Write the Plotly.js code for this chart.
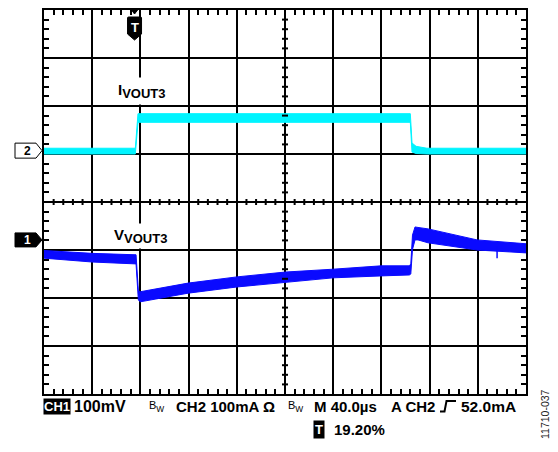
<!DOCTYPE html>
<html>
<head>
<meta charset="utf-8">
<script src="https://cdn.plot.ly/plotly-3.0.1.min.js"></script>
<style>html,body{margin:0;padding:0;background:#fff;}#chart{width:558px;height:452px;}</style>
</head>
<body>
<div id="chart"></div>
<script>
// ---- Data read from the scope capture (time in µs, trigger at t = 0) ----
// CH2: output current I_VOUT3 (mA), upper / lower edges of the noisy trace
const ch2Time = [-76.8, -1.0, 1.2, 227.2, 228.6, 232.0, 241.0, 323.2];
const ch2Upper = [5, 5, 77, 77, 16, 9, 5, 5];
const ch2Lower = [-7, -7, 59, 59, -3, -6, -7, -7];

// CH1: output voltage V_VOUT3 (mV, relative to CH1 marker), upper / lower edges
const ch1Time = [-76.8, -36.9, -0.4, 1.5, 3.0, 42.7, 83.4, 123.2, 163.1, 202.9, 226.4, 227.6, 229.0, 231.1, 233.6, 241.9, 282.6, 323.2];
const ch1Upper = [-22, -28, -31, -105, -108, -90, -77, -67, -61, -54, -54, -50, 10, 27, 26, 23, 0, -8];
const ch1Lower = [-38, -46, -50, -125, -129, -111, -98, -88, -79, -75, -73, -71, -20, 0, 0, -6, -21, -27];
// single narrow glitch on CH1
const ch1GlitchTime = [299.2, 299.2];
const ch1GlitchMv = [-14, -38];

// ---- Scope settings / text ----
const timePerDiv = 40;          // µs/div
const triggerPos = 0.192;       // 19.20 %
const ch1PerDiv = 100;          // mV/div
const ch2PerDiv = 100;          // mA/div
const ch1OffsetDiv = -0.79;     // CH1 ground marker position (div)
const ch2OffsetDiv = 1.07;      // CH2 ground marker position (div)
const triggerLevel = '52.0mA';
const figureId = '11710-037';
const labelI = 'I<sub><span style="font-size:13px">VOUT3</span></sub>';
const labelV = 'V<sub><span style="font-size:13px">VOUT3</span></sub>';

const xStart = -triggerPos * 10 * timePerDiv;
const xEnd = xStart + 10 * timePerDiv;

const PL = 44, PT = 10, PW = 482, PH = 384;
const px2x = px => (px - PL) / PW;
const py2y = py => (PT + PH - py) / PH;

const CYAN = '#00f4ff';
const BLUE = '#0a0aff';
const FONT = 'Liberation Sans, Arial, sans-serif';

const traces = [
  {x: ch2Time, y: ch2Lower, yaxis: 'y2', mode: 'lines', line: {color: CYAN, width: 1}, hoverinfo: 'skip'},
  {x: ch2Time, y: ch2Upper, yaxis: 'y2', mode: 'lines', line: {color: CYAN, width: 1}, fill: 'tonexty', fillcolor: CYAN, hoverinfo: 'skip'},
  {x: ch1Time, y: ch1Lower, yaxis: 'y3', mode: 'lines', line: {color: BLUE, width: 1}, hoverinfo: 'skip'},
  {x: ch1Time, y: ch1Upper, yaxis: 'y3', mode: 'lines', line: {color: BLUE, width: 1}, fill: 'tonexty', fillcolor: BLUE, hoverinfo: 'skip'},
  {x: ch1GlitchTime, y: ch1GlitchMv, yaxis: 'y3', mode: 'lines', line: {color: BLUE, width: 1.5}, hoverinfo: 'skip'}
];

// center-cross minor ticks (graticule decoration)
const shapes = [];
const xCenter = xStart + 5 * timePerDiv;
for (let k = 1; k < 50; k++) {
  if (k % 5 === 0) continue;
  const t = xStart + k * timePerDiv / 5;
  shapes.push({type: 'line', xref: 'x', yref: 'y', x0: t, x1: t, ysizemode: 'pixel', yanchor: 0, y0: -3, y1: 3, line: {color: 'black', width: 2}});
}
for (let k = 1; k < 40; k++) {
  if (k % 5 === 0) continue;
  const v = -4 + k * 0.2;
  shapes.push({type: 'line', xref: 'x', yref: 'y', xsizemode: 'pixel', xanchor: xCenter, x0: -3, x1: 3, y0: v, y1: v, line: {color: 'black', width: 2}});
}
// channel markers
shapes.push({type: 'path', xref: 'paper', yref: 'y2', xsizemode: 'pixel', ysizemode: 'pixel', xanchor: 0, yanchor: 0,
  path: 'M -29 7.5 L -8 7.5 L -2 0 L -8 -7.5 L -29 -7.5 Z', fillcolor: 'white', line: {color: 'black', width: 1}});
shapes.push({type: 'path', xref: 'paper', yref: 'y3', xsizemode: 'pixel', ysizemode: 'pixel', xanchor: 0, yanchor: 0,
  path: 'M -29 7 L -8 7 L -2 0 L -8 -7 L -29 -7 Z', fillcolor: 'black', line: {color: 'black', width: 1}});
// trigger marker
shapes.push({type: 'path', xref: 'x', yref: 'paper', xsizemode: 'pixel', ysizemode: 'pixel', xanchor: 0, yanchor: 1,
  path: 'M -9 -8 Q -9 -7 -8 -7 L 4 -7 Q 5 -7 5 -8 L 5 -24 L -2 -30 L -9 -24 Z', fillcolor: 'black', line: {color: 'black', width: 1}});
shapes.push({type: 'path', xref: 'x', yref: 'paper', xsizemode: 'pixel', ysizemode: 'pixel', xanchor: 0, yanchor: 1,
  path: 'M -5 0 L 1 0 L -2 -4 Z', fillcolor: 'black', line: {color: 'black', width: 1}});
// trigger slope symbol
shapes.push({type: 'path', xref: 'paper', yref: 'paper', xsizemode: 'pixel', ysizemode: 'pixel', xanchor: px2x(440), yanchor: py2y(406),
  path: 'M 0 -5.5 L 4.5 -5.5 L 6.5 5 L 16 5', line: {color: 'black', width: 2}});

const ann = (px, py, text, opts) => Object.assign({
  xref: 'paper', yref: 'paper', x: px2x(px), y: py2y(py), text: text, showarrow: false,
  xanchor: 'left', yanchor: 'middle', font: {family: FONT, size: 15, color: 'black', weight: 'bold'}
}, opts || {});

const bw = '<span style="font-size:11px">B</span><sub>W</sub>';
const annotations = [
  ann(142, 91, labelI, {xanchor: 'center', bgcolor: 'white', borderpad: 3}),
  ann(140, 236, labelV, {xanchor: 'center', bgcolor: 'white', borderpad: 2}),
  {xref: 'paper', yref: 'y2', x: px2x(27), y: 0, text: '2', showarrow: false, xanchor: 'center', yanchor: 'middle',
   font: {family: FONT, size: 12, color: 'black', weight: 'bold'}},
  {xref: 'paper', yref: 'y3', x: px2x(27), y: 0, text: '1', showarrow: false, xanchor: 'center', yanchor: 'middle',
   font: {family: FONT, size: 12, color: 'white', weight: 'bold'}},
  {xref: 'x', yref: 'paper', x: 0, y: 1, xshift: -2, yshift: -17, text: 'T', showarrow: false, xanchor: 'center', yanchor: 'middle',
   font: {family: FONT, size: 13, color: 'white', weight: 'bold'}},
  ann(43, 406, 'CH1', {bgcolor: 'black', borderpad: 0, font: {family: FONT, size: 13, color: 'white', weight: 'bold'}}),
  ann(72, 406, ch1PerDiv + 'mV', {font: {family: FONT, size: 16, color: 'black', weight: 'bold'}}),
  ann(147, 406, bw, {font: {family: FONT, size: 12, color: 'black'}}),
  ann(174, 406, 'CH2 ' + ch2PerDiv + 'mA Ω'),
  ann(286, 406, bw, {font: {family: FONT, size: 12, color: 'black'}}),
  ann(312, 406, 'M ' + timePerDiv.toFixed(1) + 'µs'),
  ann(389, 406, 'A CH2'),
  ann(459, 406, triggerLevel, {font: {family: FONT, size: 15.5, color: 'black', weight: 'bold'}}),
  ann(313, 429, 'T', {bgcolor: 'black', borderpad: 1, font: {family: FONT, size: 13, color: 'white', weight: 'bold'}}),
  ann(332, 429, (triggerPos * 100).toFixed(2) + '%'),
  ann(545, 414, figureId, {xanchor: 'center', textangle: -90, font: {family: FONT, size: 10.5, color: '#222'}})
];

const axisCommon = {
  showgrid: true, gridcolor: 'black', gridwidth: 2, zeroline: false,
  showline: true, linecolor: 'black', linewidth: 2, mirror: 'ticks',
  showticklabels: false, ticks: '', fixedrange: true
};

const layout = {
  width: 558, height: 452,
  margin: {l: PL, r: 558 - PL - PW, t: PT, b: 452 - PT - PH, pad: 0},
  paper_bgcolor: 'white', plot_bgcolor: 'white',
  showlegend: false,
  xaxis: Object.assign({}, axisCommon, {range: [xStart, xEnd], tick0: xStart, dtick: timePerDiv,
    minor: {tick0: xStart, dtick: timePerDiv / 5, ticks: 'inside', ticklen: 5, tickwidth: 2, tickcolor: 'black', showgrid: false}}),
  yaxis: Object.assign({}, axisCommon, {range: [-4, 4], tick0: 0, dtick: 1,
    minor: {tick0: 0, dtick: 0.2, ticks: 'inside', ticklen: 5, tickwidth: 2, tickcolor: 'black', showgrid: false}}),
  yaxis2: {overlaying: 'y', visible: false, fixedrange: true,
    range: [(-4 - ch2OffsetDiv) * ch2PerDiv, (4 - ch2OffsetDiv) * ch2PerDiv]},
  yaxis3: {overlaying: 'y', visible: false, fixedrange: true,
    range: [(-4 - ch1OffsetDiv) * ch1PerDiv, (4 - ch1OffsetDiv) * ch1PerDiv]},
  shapes: shapes,
  annotations: annotations
};

Plotly.newPlot('chart', traces, layout, {staticPlot: true, displayModeBar: false});
</script>
</body>
</html>
